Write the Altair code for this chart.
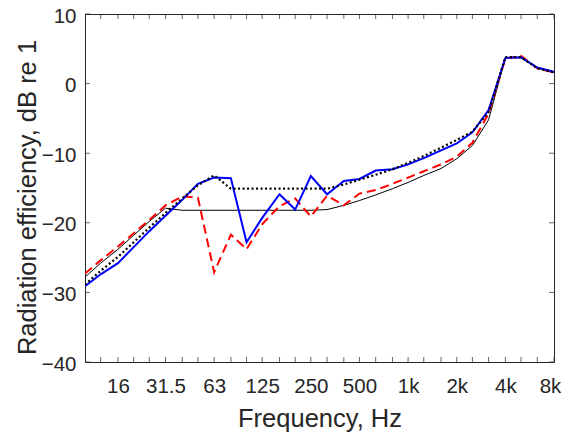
import altair as alt
import pandas as pd

# third-octave band centre frequencies, Hz
freqs = [10, 12.5, 16, 20, 25, 31.5, 40, 50, 63, 80, 100, 125, 160, 200, 250,
         315, 400, 500, 630, 800, 1000, 1250, 1600, 2000, 2500, 3150, 4000,
         5000, 6300, 8000]

# radiation efficiency, dB re 1
blue_solid = [-29.1, -27.4, -25.8, -23.5, -21.2, -19.0, -16.7, -14.4, -13.5, -13.6,
              -22.8, -19.3, -15.9, -18.1, -13.3, -15.9, -14.0, -13.7, -12.5, -12.3,
              -11.6, -10.7, -9.6, -8.6, -7.0, -3.8, 3.7, 3.8, 2.3, 1.7]
red_dashed = [-27.3, -25.4, -23.4, -21.5, -19.6, -17.5, -16.2, -16.4, -27.1, -21.7,
              -23.8, -20.2, -17.6, -16.5, -19.1, -16.1, -17.5, -15.8, -15.3, -14.4,
              -13.5, -12.6, -11.6, -10.5, -8.5, -4.3, 3.6, 4.0, 2.2, 1.6]
black_dotted = [-28.9, -26.9, -24.9, -22.8, -20.7, -18.6, -16.5, -14.6, -13.2, -15.1,
                -15.1, -15.1, -15.1, -15.1, -15.1, -15.1, -14.5, -13.8, -13.1, -12.3,
                -11.4, -10.4, -9.2, -8.1, -6.9, -4.1, 3.8, 3.8, 2.2, 1.6]
black_solid = [-27.8, -25.8, -23.8, -21.8, -19.8, -17.9, -18.2, -18.2, -18.2, -18.2,
               -18.2, -18.2, -18.2, -18.2, -18.2, -18.1, -17.5, -16.8, -16.0, -15.1,
               -14.2, -13.2, -12.2, -10.8, -8.9, -5.2, 3.7, 3.7, 2.2, 1.6]

# axis tick positions / labels
x_label_freqs = [16, 31.5, 63, 125, 250, 500, 1000, 2000, 4000, 8000]
x_tick_freqs = freqs[1:]
y_tick_values = [-40, -30, -20, -10, 0, 10]

FONT = "Liberation Sans"
AX = "#262626"

xscale = alt.Scale(type="log", domain=[10, 8000], nice=False)
yscale = alt.Scale(domain=[-40, 10], nice=False)

x_axis = alt.Axis(values=x_label_freqs, ticks=False, tickSize=0, domain=False, grid=False,
                  labelExpr="datum.value >= 1000 ? (datum.value/1000) + 'k' : '' + datum.value",
                  labelFont=FONT, labelFontSize=20.5, labelColor=AX,
                  labelBaseline="alphabetic", labelPadding=30, labelFlush=False,
                  labelOverlap=False,
                  labelOffset={"condition": {"test": "datum.value == 8000", "value": -4},
                               "value": 0},
                  title="Frequency, Hz", titleFont=FONT, titleFontSize=25.5,
                  titleFontWeight="normal", titleColor=AX,
                  titleBaseline="alphabetic", titleY=64)
y_axis = alt.Axis(values=y_tick_values, ticks=False, tickSize=0, domain=False, grid=False,
                  labelFont=FONT, labelFontSize=20.5, labelColor=AX, labelPadding=9,
                  labelFlush=False, labelBaseline="alphabetic", labelOffset=8,
                  title="Radiation efficiency, dB re 1", titleFont=FONT, titleFontSize=25.5,
                  titleFontWeight="normal", titleColor=AX,
                  titleBaseline="alphabetic", titleX=-50, titleY=183, titleAngle=-90)

X = lambda: alt.X("f:Q", scale=xscale, axis=x_axis)
Y = lambda: alt.Y("v:Q", scale=yscale, axis=y_axis)


def line_layer(values, color, width, dash=None):
    df = pd.DataFrame({"f": freqs, "v": values})
    kw = dict(color=color, strokeWidth=width, clip=True)
    if dash:
        kw["strokeDash"] = dash
    return alt.Chart(df).mark_line(**kw).encode(x=X(), y=Y())


l_black = line_layer(black_solid, "#000000", 1)
l_red = line_layer(red_dashed, "#ff0000", 2, dash=[9, 5])
l_blue = line_layer(blue_solid, "#0000ff", 2)
l_dot = line_layer(black_dotted, "#000000", 2.2, dash=[2, 2.5])

# inward ticks (MATLAB style), placed on the frame edges
xb = pd.DataFrame({"f": x_tick_freqs, "v": [-40] * len(x_tick_freqs)})
xtp = pd.DataFrame({"f": x_tick_freqs, "v": [10] * len(x_tick_freqs)})
yl = pd.DataFrame({"f": [10] * len(y_tick_values), "v": y_tick_values})
yr = pd.DataFrame({"f": [8000] * len(y_tick_values), "v": y_tick_values})

bottom_ticks = alt.Chart(xb).mark_tick(orient="vertical", size=5, thickness=1, color=AX,
                                       yOffset=-2.5).encode(x=X(), y=Y())
top_ticks = alt.Chart(xtp).mark_tick(orient="vertical", size=5, thickness=1, color=AX,
                                     yOffset=2.5).encode(x=X(), y=Y())
left_ticks = alt.Chart(yl).mark_tick(orient="horizontal", size=5, thickness=1, color=AX,
                                     xOffset=2.5).encode(x=X(), y=Y())
right_ticks = alt.Chart(yr).mark_tick(orient="horizontal", size=5, thickness=1, color=AX,
                                      xOffset=-2.5).encode(x=X(), y=Y())

chart = alt.layer(
    l_black, l_red, l_blue, l_dot,
    bottom_ticks, top_ticks, left_ticks, right_ticks,
).properties(
    width=469, height=348,
    autosize="none",
    padding={"left": 77, "top": 6, "right": 7, "bottom": 70},
    background="white",
).configure_view(stroke=AX, strokeWidth=1)

chart.save("out.html", embed_options={"renderer": "svg", "actions": False})
